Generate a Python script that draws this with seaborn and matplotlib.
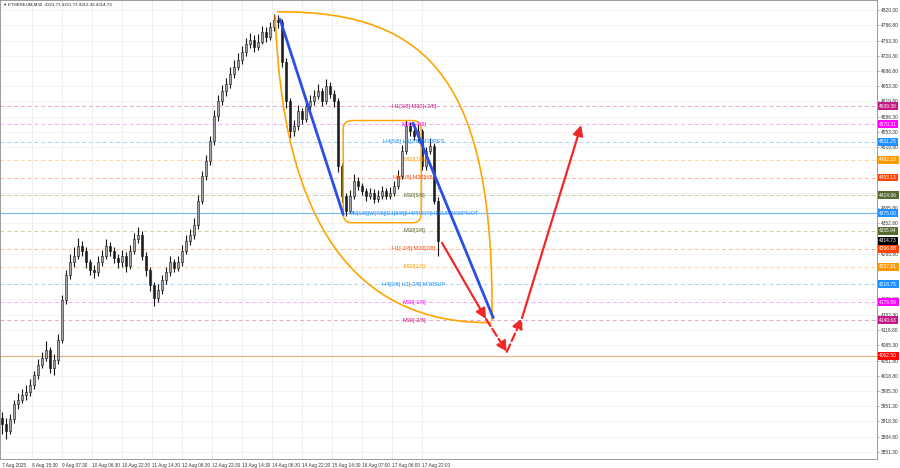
import numpy as np
import pandas as pd
import matplotlib
matplotlib.use("Agg")
import matplotlib.pyplot as plt
import matplotlib.transforms as mtransforms
from matplotlib.path import Path
from matplotlib.patches import PathPatch, FancyBboxPatch
import seaborn as sns

sns.set_theme(style="white")
plt.rcParams["font.family"] = ["Liberation Sans", "DejaVu Sans"]

# ---------------- data ----------------
title_text = "ETHEREUM,M30  4321.73 4321.73 4312.43 4314.73"

close = [3912, 3897, 3923, 3956, 3966, 3977, 3984, 3999, 4021, 4043,
         4058, 4075, 4036, 4054, 4097, 4184, 4239, 4267, 4282, 4304,
         4293, 4267, 4250, 4245, 4267, 4282, 4304, 4293, 4276, 4267,
         4282, 4260, 4293, 4319, 4326, 4282, 4250, 4217, 4189, 4206,
         4228, 4245, 4267, 4254, 4267, 4293, 4315, 4326, 4348, 4402,
         4456, 4489, 4533, 4587, 4620, 4642, 4659, 4681, 4696, 4711,
         4729, 4746, 4755, 4740, 4751, 4772, 4761, 4783, 4798, 4794,
         4707, 4620, 4555, 4565, 4598, 4581, 4609, 4620, 4631, 4642,
         4620, 4653, 4637, 4620, 4478, 4413, 4380, 4413, 4446, 4435,
         4424, 4413, 4420, 4406, 4413, 4424, 4413, 4420, 4435, 4456,
         4511, 4565, 4555, 4544, 4555, 4478, 4511, 4522, 4402, 4315]
first_open = 3925
high = [3940, 3925, 3935, 3965, 3980, 3990, 3998, 4012, 4030, 4055,
        4070, 4095, 4082, 4066, 4110, 4195, 4250, 4285, 4300, 4320,
        4315, 4300, 4275, 4262, 4280, 4295, 4318, 4312, 4300, 4285,
        4295, 4290, 4305, 4332, 4345, 4335, 4290, 4258, 4225, 4220,
        4240, 4258, 4280, 4275, 4280, 4305, 4328, 4340, 4365, 4415,
        4468, 4502, 4545, 4600, 4635, 4655, 4672, 4695, 4710, 4725,
        4742, 4760, 4770, 4765, 4768, 4785, 4782, 4795, 4812, 4810,
        4800, 4715, 4628, 4580, 4612, 4605, 4622, 4635, 4645, 4658,
        4650, 4668, 4662, 4645, 4628, 4485, 4420, 4425, 4460, 4455,
        4442, 4430, 4430, 4428, 4425, 4435, 4430, 4432, 4445, 4470,
        4525, 4580, 4575, 4565, 4570, 4560, 4520, 4540, 4528, 4410]
low = [3890, 3880, 3890, 3915, 3945, 3958, 3965, 3975, 3990, 4012,
       4035, 4050, 4025, 4020, 4045, 4090, 4175, 4230, 4258, 4275,
       4280, 4255, 4240, 4232, 4238, 4260, 4275, 4282, 4265, 4255,
       4258, 4245, 4252, 4285, 4310, 4272, 4238, 4205, 4172, 4180,
       4198, 4220, 4238, 4245, 4248, 4260, 4285, 4305, 4318, 4340,
       4395, 4448, 4480, 4525, 4578, 4612, 4632, 4650, 4672, 4688,
       4702, 4720, 4738, 4728, 4732, 4745, 4750, 4755, 4775, 4780,
       4695, 4605, 4540, 4545, 4558, 4570, 4575, 4602, 4612, 4625,
       4610, 4615, 4628, 4608, 4465, 4400, 4368, 4375, 4405, 4425,
       4415, 4402, 4405, 4398, 4400, 4405, 4405, 4405, 4412, 4428,
       4450, 4505, 4545, 4535, 4532, 4470, 4470, 4505, 4395, 4282]

time_labels = ["7 Aug 2025", "8 Aug 15:30", "9 Aug 07:30", "10 Aug 06:30", "10 Aug 22:30",
               "11 Aug 14:30", "12 Aug 06:30", "12 Aug 22:30", "13 Aug 14:30", "14 Aug 06:30",
               "14 Aug 22:30", "15 Aug 14:30", "16 Aug 07:00", "17 Aug 06:00", "17 Aug 22:00"]

price_ticks = [4820.30, 4786.80, 4753.30, 4720.30, 4686.80, 4653.30, 4619.80, 4586.30,
               4553.30, 4519.80, 4418.30, 4385.80, 4352.80, 4285.80, 4185.80, 4152.30,
               4118.80, 4085.30, 4051.80, 4018.80, 3985.30, 3951.30, 3918.30, 3884.80, 3851.30]

levels = [4609.38, 4570.31, 4531.25, 4492.19, 4453.13, 4414.06, 4375.00,
          4335.94, 4296.88, 4257.81, 4218.75, 4179.69, 4140.63]
level_names = ["H1[3/8] M30[+2/8]", "M30[+1/8]", "H4[5/8] H1[2/8] M30RES", "M30[7/8]",
               "H1[1/8] M30[6/8]", "M30[5/8]",
               "MN[1/8]|W[7/8]|D1[8/8]|H4PIVOT|H1SUP|M30PIVOT",
               "M30[3/8]", "H1[-1/8] M30[2/8]", "M30[1/8]", "H4[3/8] H1[-2/8] M30SUP",
               "M30[-1/8]", "M30[-2/8]"]
level_colors = ["#C71585", "#FF00FF", "#1E90FF", "#FF9900", "#FF4500", "#556B2F", "#1E90FF",
                "#556B2F", "#FF4500", "#FF9900", "#1E90FF", "#FF00FF", "#C71585"]
line_colors = ["#E9A6CC", "#FFA6FF", "#A8D0FF", "#FFD8A0", "#FFB8A0", "#C8D4A8", "#7FB8FF",
               "#C8D4A8", "#FFB8A0", "#FFD8A0", "#A8D0FF", "#FFA6FF", "#E9A6CC"]
target_level = 4062.50
current_price = 4314.73

# trend lines / projections (bar index, price)
blue1 = {"bar": [69.5, 85.3], "price": [4800, 4372]}
blue2 = {"bar": [102.8, 122.8], "price": [4572, 4146]}
red_path_bar = [110.0, 121.0, 126.2, 130.0, 144.8]
red_path_price = [4310, 4143, 4071, 4145, 4568]
red_styles = ["-", "--", "--", "-"]
# curved "leaf": outer is a cubic bezier, inner a quadratic one (anchors + control points)
outer_curve = {"bar": [68.8, 108.0, 123.0, 122.5], "price": [4816, 4820, 4650, 4140]}
inner_curve = {"bar": [68.3, 70.8, 122.3], "price": [4809, 4130, 4135]}
box_bar = [85.3, 104.8]
box_price = [4354, 4578]

# ---------------- figure ----------------
W, H = 900, 468
fig = plt.figure(figsize=(W / 100, H / 100), dpi=100)
ax = fig.add_axes([0, 9 / H, 877 / W, 459 / H])
ax.set_facecolor("white")

n = len(close)
opens = [first_open] + close[:-1]
df = pd.DataFrame({"bar": np.arange(n), "open": opens, "high": high, "low": low, "close": close})

ax.set_xlim(-0.5, 218.75)
ax.set_ylim(3836.1, 4842.2)

# grid
tick_pos = np.arange(len(time_labels)) * 7.5
for tp in tick_pos[1:]:
    ax.axvline(tp, color="#ececec", lw=0.6, zorder=0)
for pt in price_ticks:
    ax.axhline(pt, color="#f2f2f2", lw=0.6, zorder=0)

# level lines
for lv, lc in zip(levels, line_colors):
    if lv == 4375.00:
        ax.axhline(lv, color=lc, lw=0.9, zorder=1)
    else:
        ax.axhline(lv, color=lc, lw=0.7, ls=(0, (4, 3)), zorder=1)
ax.axhline(target_level, color="#E2B07A", lw=0.8, zorder=1)

# candles
ax.vlines(df["bar"], df["low"], df["high"], color="#151515", lw=0.8, zorder=3)
body_lo = np.minimum(df["open"], df["close"])
body_h = np.maximum(np.abs(df["close"] - df["open"]), 1.5)
up = df["close"] >= df["open"]
ax.bar(df["bar"][up], body_h[up], bottom=body_lo[up], width=0.7, color="#a8a8a8",
       edgecolor="#151515", lw=0.4, zorder=4)
ax.bar(df["bar"][~up], body_h[~up], bottom=body_lo[~up], width=0.7, color="#1e1e1e",
       edgecolor="#151515", lw=0.4, zorder=4)

# level labels on chart
label_bar = 103.0
for lv, name, c in zip(levels, level_names, level_colors):
    ax.text(label_bar, lv, name, color=c, fontsize=4.0, ha="center", va="center", zorder=6)

# orange rounded box
box = FancyBboxPatch((box_bar[0], box_price[0]), box_bar[1] - box_bar[0], box_price[1] - box_price[0],
                     boxstyle="round,pad=0,rounding_size=2.2", mutation_aspect=8.7,
                     fill=False, ec="#FFA500", lw=1.1, zorder=5)
ax.add_patch(box)

# orange curves
p_out = Path(list(zip(outer_curve["bar"], outer_curve["price"])),
             [Path.MOVETO, Path.CURVE4, Path.CURVE4, Path.CURVE4])
p_in = Path(list(zip(inner_curve["bar"], inner_curve["price"])),
            [Path.MOVETO, Path.CURVE3, Path.CURVE3])
for pth in (p_out, p_in):
    ax.add_patch(PathPatch(pth, fill=False, ec="#FFA500", lw=1.2, zorder=5))

# blue trend lines (seaborn)
for bl in (blue1, blue2):
    sns.lineplot(x=bl["bar"], y=bl["price"], ax=ax, color="#2B4FE6", lw=2.0, zorder=7,
                 estimator=None, sort=False)

# red projection arrows
for k in range(len(red_path_bar) - 1):
    ax.annotate("", xy=(red_path_bar[k + 1], red_path_price[k + 1]),
                xytext=(red_path_bar[k], red_path_price[k]),
                arrowprops=dict(arrowstyle="-|>,head_length=0.5,head_width=0.25", color="#F02828",
                                lw=1.6, ls=red_styles[k], shrinkA=0, shrinkB=0), zorder=8)

# axes styling
ax.yaxis.tick_right()
ax.set_yticks(price_ticks)
ax.set_yticklabels([f"{v:.2f}" for v in price_ticks], fontsize=3.5, color="#333333")
ax.set_xticks(tick_pos)
ax.set_xticklabels(time_labels, fontsize=3.4, color="#333333", ha="left")
ax.tick_params(axis="both", length=1.5, width=0.5, color="#888888", pad=1.2)
for s in ax.spines.values():
    s.set_color("#999999")
    s.set_linewidth(0.7)
ax.set_xlabel("")
ax.set_ylabel("")

# right-side colored price labels
trans = mtransforms.blended_transform_factory(ax.transAxes, ax.transData)
lab_x = 1.0025
for lv, c in zip(levels, level_colors):
    ax.text(lab_x, lv, f"{lv:.2f}", transform=trans, fontsize=3.5, color="white", ha="left",
            va="center", bbox=dict(boxstyle="square,pad=0.3", fc=c, ec="none"),
            clip_on=False, zorder=10)
ax.text(lab_x, current_price, f"{current_price:.2f}", transform=trans, fontsize=3.5, color="white",
        ha="left", va="center", bbox=dict(boxstyle="square,pad=0.3", fc="black", ec="none"),
        clip_on=False, zorder=10)
ax.text(lab_x, target_level, f"{target_level:.2f}", transform=trans, fontsize=3.5, color="white",
        ha="left", va="center", bbox=dict(boxstyle="square,pad=0.3", fc="#FF0000", ec="none"),
        clip_on=False, zorder=10)

# title
fig.text(2 / W, 1 - 5 / H, "\u25BC", fontsize=3.0, color="#333333", va="center")
fig.text(8 / W, 1 - 5 / H, title_text, fontsize=3.2, color="#222222", va="center")

fig.savefig("out.png", dpi=100)
